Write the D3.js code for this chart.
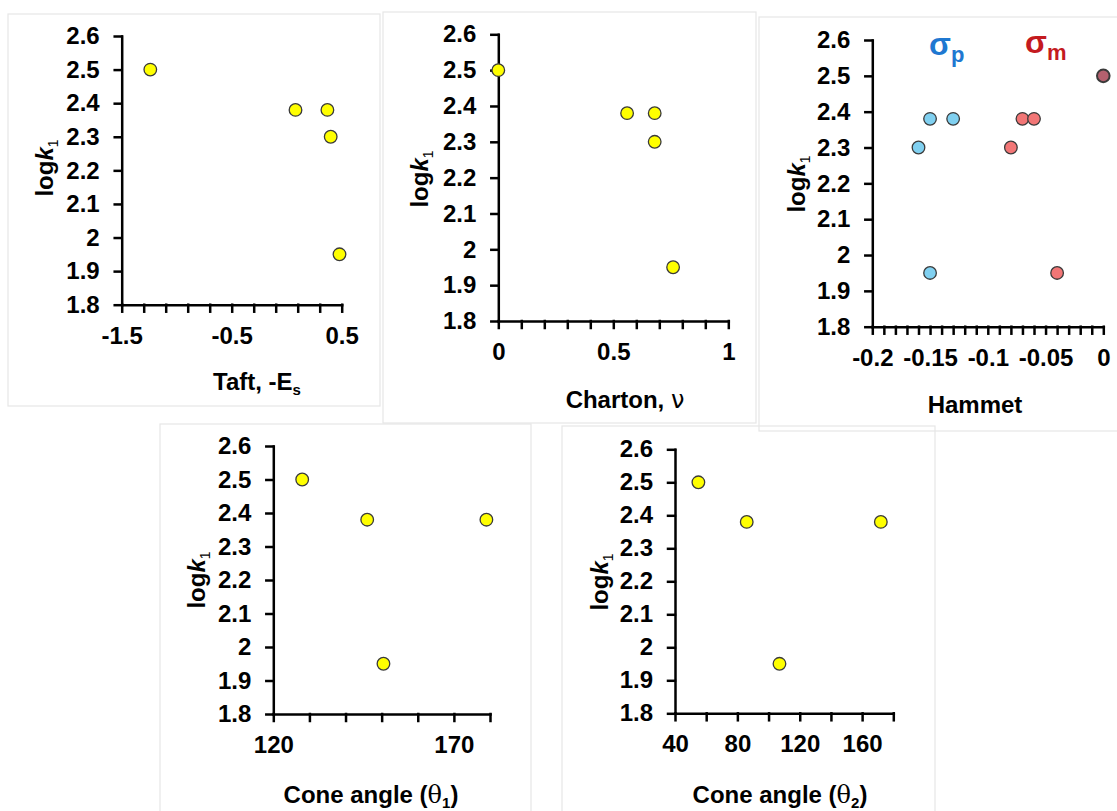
<!DOCTYPE html>
<html>
<head>
<meta charset="utf-8">
<script src="https://cdn.jsdelivr.net/npm/d3@7"></script>
<style>
  body { margin: 0; background: #fff; }
  svg text { font-family: "Liberation Sans", Arial, sans-serif; font-weight: bold; fill: #000; }
  .axis path, .axis line { stroke: #000; stroke-width: 2.5; stroke-linecap: square; }
  .axis text { font-size: 24px; fill: #000; }
  .frame { fill: none; stroke: #e6e6e6; stroke-width: 1.2; }
  .dot { stroke: #3a3a3a; stroke-width: 1.3; }
</style>
</head>
<body>
<div id="chart"></div>
<script>
// logk1 against each steric / electronic descriptor
var logk1         = [2.50, 2.38, 2.38, 2.30, 1.95];
var taftEs        = [-1.24, 0.08, 0.37, 0.40, 0.48];
var chartonNu     = [0, 0.56, 0.68, 0.68, 0.76];

var hammettLogk   = [2.38, 2.38, 2.30, 1.95];
var sigmaP        = [-0.15, -0.13, -0.16, -0.15];
var sigmaM        = [-0.07, -0.06, -0.08, -0.04];
var sigmaBoth     = [0];      // same value for sigma p and m
var sigmaBothLogk = [2.50];

var coneLogk      = [2.50, 2.38, 2.38, 1.95];
var coneTheta1    = [128, 146, 179, 150.5];
var coneTheta2    = [55, 86, 172, 107];

// tick labels
var yLabels       = [1.8, 1.9, 2, 2.1, 2.2, 2.3, 2.4, 2.5, 2.6];
var taftLabels    = [-1.5, -0.5, 0.5];
var chartonLabels = [0, 0.5, 1];
var hammettLabels = [-0.2, -0.15, -0.1, -0.05, 0];
var theta1Labels  = [120, 170];
var theta2Labels  = [40, 80, 120, 160];

var svg = d3.select('#chart').append('svg')
  .attr('width', 1117)
  .attr('height', 811);

var isLabel = function(list, v) {
  return list.some(function(l) { return Math.abs(l - v) < 1e-6; });
};

var drawPanel = function(p) {

  var g = svg.append('g');

  g.append('rect')
    .attr('class', 'frame')
    .attr('x', p.frame[0]).attr('y', p.frame[1])
    .attr('width', p.frame[2]).attr('height', p.frame[3]);

  var x = d3.scaleLinear().domain(p.xDomain).range(p.xRange);
  var y = d3.scaleLinear().domain([1.8, 2.6]).range(p.yRange);

  var n = Math.round((p.xDomain[1] - p.xDomain[0]) / p.xStep);
  var xTicks = d3.range(n + 1).map(function(i) { return +(p.xDomain[0] + i * p.xStep).toFixed(4); });

  g.append('g')
    .attr('class', 'axis')
    .attr('transform', 'translate(0,' + p.yRange[0] + ')')
    .call(d3.axisBottom(x)
      .tickValues(xTicks)
      .tickSize(7).tickSizeOuter(0).tickPadding(15)
      .tickFormat(function(v) { return isLabel(p.xLabels, v) ? String(v) : ''; }));

  g.append('g')
    .attr('class', 'axis')
    .attr('transform', 'translate(' + p.xRange[0] + ',0)')
    .call(d3.axisLeft(y)
      .tickValues(yLabels)
      .tickSize(7).tickSizeOuter(0).tickPadding(15)
      .tickFormat(function(v) { return String(v); }));

  // y title: log k1
  var yt = g.append('text')
    .attr('transform', 'translate(' + p.yTitle[0] + ',' + p.yTitle[1] + ') rotate(-90)')
    .attr('text-anchor', 'middle')
    .style('font-size', '24px');
  yt.append('tspan').text('log');
  yt.append('tspan').style('font-style', 'italic').text('k');
  yt.append('tspan').attr('dy', 5).style('font-size', '14px').style('font-weight', 'normal').text('1');

  // x title
  var xt = g.append('text')
    .attr('x', p.xTitle[0]).attr('y', p.xTitle[1])
    .attr('text-anchor', 'middle')
    .style('font-size', '24px');
  p.xTitleParts.forEach(function(part) {
    var t = xt.append('tspan').text(part.text);
    if (part.sub) t.attr('dy', 5).style('font-size', '15px');
    if (part.greek) t.style('font-family', part.greek).style('font-weight', 'normal');
    if (part.after) t.attr('dy', -5);
  });

  p.series.forEach(function(s) {
    g.selectAll(null)
      .data(d3.zip(s.xs, s.ys))
    .enter().append('circle')
      .attr('class', 'dot')
      .attr('cx', function(d) { return x(d[0]); })
      .attr('cy', function(d) { return y(d[1]); })
      .attr('r', 6.3)
      .style('fill', s.fill)
      .style('stroke-width', s.strokeWidth || 1.3);
  });

  (p.notes || []).forEach(function(nt) {
    var t = g.append('text')
      .attr('x', nt.x).attr('y', nt.y)
      .style('fill', nt.color)
      .style('font-size', '32px');
    t.append('tspan').text('σ');
    t.append('tspan').attr('dy', 7).style('font-size', '22px').style('fill', nt.color).text(nt.sub);
  });
};

drawPanel({
  frame: [8, 14, 372, 392],
  xDomain: [-1.5, 0.5], xStep: 0.2, xLabels: taftLabels,
  xRange: [121.7, 341.7], yRange: [304.7, 36],
  yTitle: [53, 168],
  xTitle: [257, 390], xTitleParts: [{text: 'Taft, -E'}, {text: 's', sub: true}],
  series: [{xs: taftEs, ys: logk1, fill: '#ffff00'}]
});

drawPanel({
  frame: [383, 12, 373, 411],
  xDomain: [0, 1], xStep: 0.1, xLabels: chartonLabels,
  xRange: [498.3, 728.3], yRange: [321, 34.3],
  yTitle: [428, 179],
  xTitle: [625, 408], xTitleParts: [{text: 'Charton, '}, {text: 'ν', greek: '"DejaVu Sans", sans-serif'}],
  series: [{xs: chartonNu, ys: logk1, fill: '#ffff00'}]
});

drawPanel({
  frame: [759, 17, 370, 414],
  xDomain: [-0.2, 0], xStep: 0.01, xLabels: hammettLabels,
  xRange: [872.3, 1103.3], yRange: [326.7, 40],
  yTitle: [805, 184],
  xTitle: [975, 413], xTitleParts: [{text: 'Hammet'}],
  series: [
    {xs: sigmaP, ys: hammettLogk, fill: '#80d0f0'},
    {xs: sigmaM, ys: hammettLogk, fill: '#f27676'},
    {xs: sigmaBoth, ys: sigmaBothLogk, fill: '#b4606e', strokeWidth: 2}
  ],
  notes: [
    {x: 929, y: 55, color: '#1f78d1', sub: 'p'},
    {x: 1025, y: 53, color: '#c41a1f', sub: 'm'}
  ]
});

drawPanel({
  frame: [160, 424, 371, 400],
  xDomain: [120, 180], xStep: 10, xLabels: theta1Labels,
  xRange: [273.3, 490], yRange: [714, 446],
  yTitle: [205, 580],
  xTitle: [371, 803], xTitleParts: [{text: 'Cone angle ('}, {text: 'θ', greek: '"DejaVu Serif", serif'}, {text: '1', sub: true}, {text: ')', after: true}],
  series: [{xs: coneTheta1, ys: coneLogk, fill: '#ffff00'}]
});

drawPanel({
  frame: [562, 426, 373, 400],
  xDomain: [40, 180], xStep: 20, xLabels: theta2Labels,
  xRange: [675, 893.3], yRange: [713.3, 449.3],
  yTitle: [608, 582],
  xTitle: [780, 803], xTitleParts: [{text: 'Cone angle ('}, {text: 'θ', greek: '"DejaVu Serif", serif'}, {text: '2', sub: true}, {text: ')', after: true}],
  series: [{xs: coneTheta2, ys: coneLogk, fill: '#ffff00'}]
});
</script>
</body>
</html>
